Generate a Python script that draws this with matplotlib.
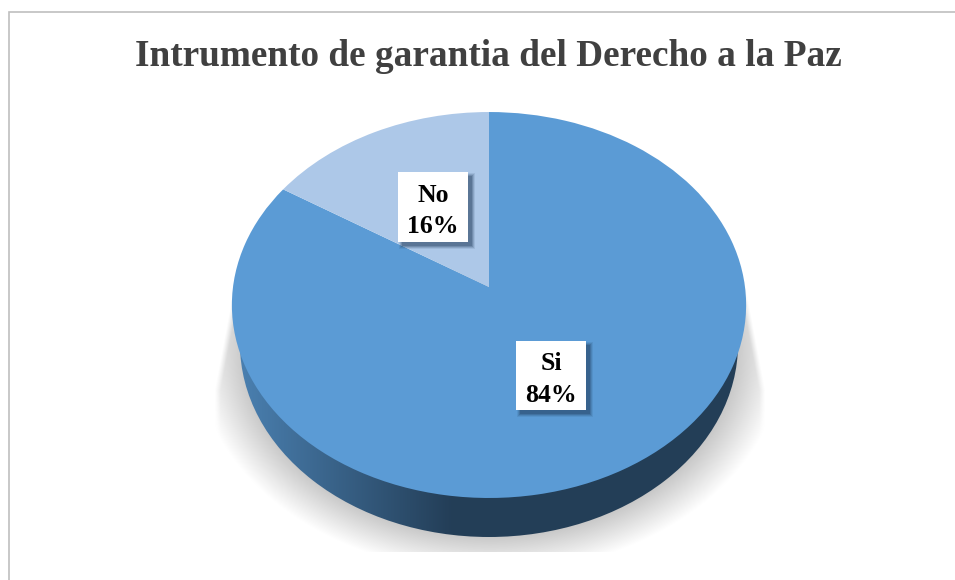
import numpy as np
import matplotlib
matplotlib.use('Agg')
import matplotlib.pyplot as plt
from matplotlib.patches import Ellipse, Rectangle
from matplotlib.transforms import Transform

plt.rcParams['font.family'] = ['Liberation Serif', 'DejaVu Serif']

title = 'Intrumento de garantia del Derecho a la Paz'
categories = ['Si', 'No']
values = [84, 16]
colors = ['#5b9bd5', '#adc8e8']

W, H = 955, 580
apex_x, apex_y = 489, 287
rad_x, rad_y, tilt = 256, 191.3, 0.0933


# the pie lies tilted back, so the apex sits above the middle of the ellipse
class TiltedPie(Transform):
    input_dims = output_dims = 2

    def transform_non_affine(self, values):
        xy = np.asarray(values)
        k = 1 + tilt * xy[:, 1]
        return np.column_stack([apex_x + rad_x * xy[:, 0] / k,
                                apex_y - rad_y * xy[:, 1] / k])


fig = plt.figure(figsize=(W / 100, H / 100), dpi=100)
ax = fig.add_axes([0, 0, 1, 1])

# soft shadow under the pie, tapering up to the widest point of the pie
xx, yy = np.meshgrid(np.arange(W), np.arange(H))
dist = np.sqrt(((xx - 489) / 272) ** 2 + ((yy - 350) / 206) ** 2)
fade = np.clip((1.08 - dist) / 0.2, 0, 1)
reach = 257 + np.clip((yy - 295) * 0.19, -40, 18)
fade = fade * np.clip((reach - np.abs(xx - 489)) / 6, 0, 1) * np.clip((yy - 255) / 50, 0, 1)
fade[yy > 551] = 0
shadow = np.ones((H, W, 4)) * 0.76
shadow[:, :, 3] = fade
ax.imshow(shadow, extent=(0, W, H, 0), aspect='auto', zorder=1, interpolation='bilinear')

# side wall, light on the left and dark from the middle on
left, dark = np.array([0.29, 0.50, 0.69]), np.array([0.14, 0.245, 0.345])
ramp = np.clip((np.linspace(232, 746, 256) - 240) / 210, 0, 1)[None, :, None]
wall_img = ax.imshow(left + (dark - left) * ramp, extent=(232, 746, 540, 300),
                     aspect='auto', zorder=2)
wall_shape = Ellipse((489, 344), 498, 386, transform=ax.transData, fc='none', ec='none')
ax.add_patch(wall_shape)
wall_img.set_clip_path(wall_shape)

wedges, _ = ax.pie(values, colors=colors, startangle=90, counterclock=False)
for w in wedges:
    w.set_transform(TiltedPie() + ax.transData)
    w.set_zorder(3)
    w.set_linewidth(0)
    w.set_clip_on(False)

ax.set_aspect('auto')
ax.set_xlim(0, W)
ax.set_ylim(H, 0)
ax.axis('off')

# label boxes
boxes = {'Si': (516, 341, 70, 69), 'No': (398, 172, 70, 70)}
for cat, val in zip(categories, values):
    x, y, bw, bh = boxes[cat]
    for grow, alpha in [(3, 0.10), (2, 0.16), (1, 0.22), (0, 0.28)]:
        ax.add_patch(Rectangle((x + 4 - grow, y + 4 - grow), bw + 2 * grow, bh + 2 * grow,
                               fc='#1f3a5a', ec='none', alpha=alpha, zorder=4))
    ax.add_patch(Rectangle((x, y), bw, bh, fc='white', ec='none', zorder=5))
    ax.text(x + bw / 2, y + bh / 2 + 4, '%s\n%d%%' % (cat, val), ha='center', va='center',
            fontsize=18.5, fontweight='bold', color='black', linespacing=1.45, zorder=6)

ax.text(488.5, 56, title, ha='center', va='center', fontsize=26.8, fontweight='bold', color='#404040')

# chart frame, only top and left are inside the crop
ax.plot([9, 9, W], [H, 11.5, 11.5], color='#bfbfbf', lw=1.2, zorder=7, solid_joinstyle='miter')

fig.savefig('out.png', dpi=100)
